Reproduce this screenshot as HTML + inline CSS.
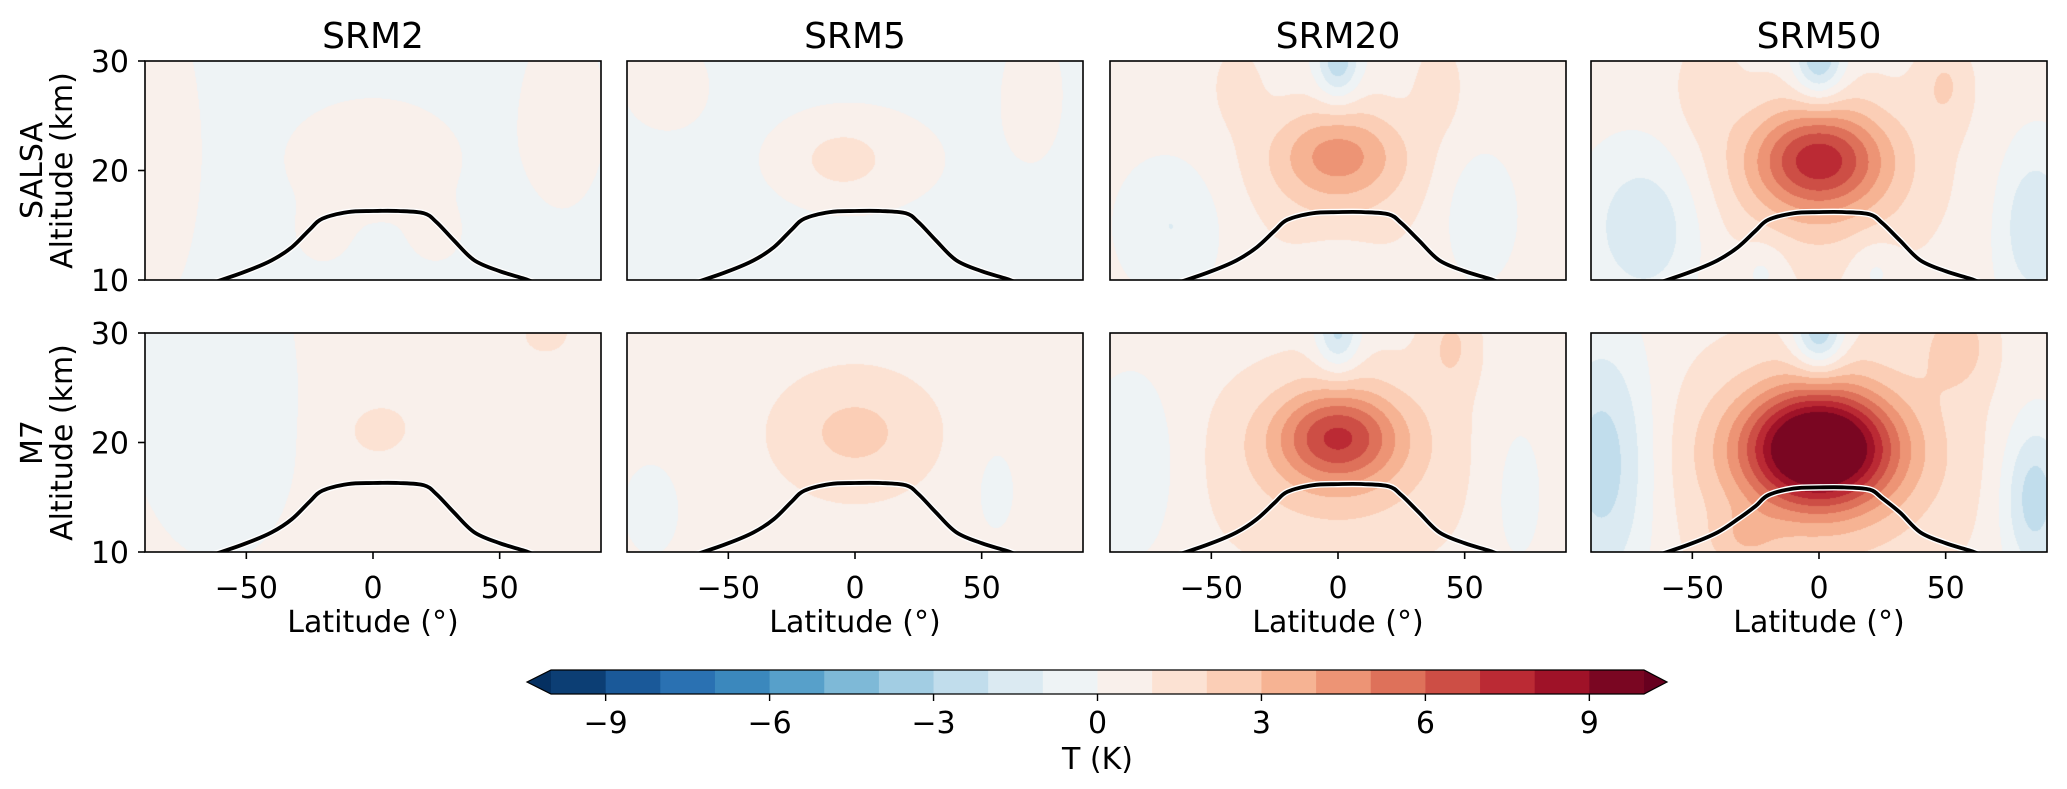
<!DOCTYPE html>
<html><head><meta charset="utf-8">
<style>
body{margin:0;background:#fff;width:2067px;height:789px;overflow:hidden;position:relative;font-family:"DejaVu Sans","Liberation Sans",sans-serif}
canvas{position:absolute}
svg{position:absolute;left:0;top:0;font-family:"DejaVu Sans","Liberation Sans",sans-serif}
</style></head><body>
<div id="fields"></div>
<svg id="ov" width="2067" height="789"></svg>
<script>
// ---- data ----
const columns = ["SRM2","SRM5","SRM20","SRM50"];
const rows = ["SALSA","M7"];
const xTicks = [-50,0,50];
const yTicks = [10,20,30];
const cbTicks = [-9,-6,-3,0,3,6,9];
const levels = [-10,-9,-8,-7,-6,-5,-4,-3,-2,-1,0,1,2,3,4,5,6,7,8,9,10];
const tpLat = [-90,-70,-60,-50,-40,-32,-25,-20,-10,0,10,20,25,32,40,50,60,70,90];
const tpAlt = [8.5,9.3,10,10.8,11.8,13.0,14.6,15.6,16.2,16.3,16.3,16.1,15.3,13.6,11.8,10.8,10.1,9.3,8.5];
// per-panel background offset and blobs [amp, lat, alt, sigmaLat, sigmaAlt]
const bgS = [-0.3,-0.3,0.3,0.3];
const bgM = [0.2,0.3,0.4,0.4];
const blobsS = [
 [[0.8,0,21,25,4],[0.8,-85,22,12,10],[0.8,75,25,12,6],[0.5,-20,14,8,2],[0.5,25,14,8,2]],
 [[1.3,-5,21,12,2],[0.8,-75,28,12,3],[0.9,70,27,8,4],[0.6,0,21,30,4]],
 [[3.2,0,21.5,18,3],[-3.2,0,30,6,2.5],[-1.4,-65,15,14,4],[-1.3,55,16,10,4],[1.2,40,28,7,3],[1.0,-40,28,8,3],[-0.8,0,11,10,2],[1.2,0,18,30,6]],
 [[5.5,0,21,18,3.2],[-3.8,0,30,7,2.5],[-2.3,-68,15,16,5],[-2.3,85,15,10,5],[-1.2,-22,11,7,2],[-1.2,22,11,7,2],[1.5,50,28,8,3],[1.2,-45,28,8,3],[2.0,0,19,35,7]]
];
const blobsM = [
 [[0.8,0,21,10,2],[0.6,30,25,30,8],[-0.6,-60,24,25,10],[0.8,70,30,10,2]],
 [[1.4,0,21,20,3.5],[-0.9,-80,14,8,3],[-0.7,55,16,8,4],[0.6,0,20,40,8]],
 [[5.2,0,20.5,17,3],[-3,0,30,6,2.5],[-1.4,-80,18,14,6],[1.5,45,29,8,3],[-1.0,70,16,10,6],[1.8,0,18,40,7]],
 [[10,0,19.5,20,3.6],[-4,0,30,7,2.5],[-3.2,-85,18,14,8],[-3.2,85,15,9,5],[1.8,55,29,10,3],[2.5,0,18,42,8],[1.2,-30,11,10,2]]
];
// ---- layout ----
const colX=[145,627,1110,1591], PW=456, rowY=[61,333], PH=219;
const FS=30;
const anchors=["#053061","#2166ac","#4393c3","#92c5de","#d1e5f0","#f7f7f7","#fddbc7","#f4a582","#d6604d","#b2182b","#67001f"].map(h=>[1,3,5].map(i=>parseInt(h.substr(i,2),16)));
function cmap(t){t=Math.max(0,Math.min(1,t));const p=t*10,i=Math.min(9,Math.floor(p)),f=p-i;return anchors[i].map((c,k)=>Math.round(c+(anchors[i+1][k]-c)*f));}
const binColors=[];for(let i=0;i<levels.length-1;i++){binColors.push(cmap(((levels[i]+levels[i+1])/2+10)/20));}
function xs(lat,c){return colX[c]+(lat+90)/180*PW;}
function ys(alt,r){return rowY[r]+PH-(alt-10)/20*PH;}
const NS="http://www.w3.org/2000/svg",ov=document.getElementById('ov');
function el(tag,attrs,txt){const e=document.createElementNS(NS,tag);for(const k in attrs)e.setAttribute(k,attrs[k]);if(txt!==undefined)e.textContent=txt;ov.appendChild(e);return e;}
function spline(p){let d=`M${p[0][0]},${p[0][1]}`;for(let i=0;i<p.length-1;i++){const p0=p[Math.max(0,i-1)],p1=p[i],p2=p[i+1],p3=p[Math.min(p.length-1,i+2)];
  const c1=[p1[0]+(p2[0]-p0[0])/6,p1[1]+(p2[1]-p0[1])/6],c2=[p2[0]-(p3[0]-p1[0])/6,p2[1]-(p3[1]-p1[1])/6];
  d+=` C${c1[0].toFixed(1)},${c1[1].toFixed(1)} ${c2[0].toFixed(1)},${c2[1].toFixed(1)} ${p2[0].toFixed(1)},${p2[1].toFixed(1)}`;}return d;}
const defs=el('defs',{});
const fields=document.getElementById('fields');
for(let r=0;r<2;r++)for(let c=0;c<4;c++){
  const cv=document.createElement('canvas');cv.width=PW;cv.height=PH;
  cv.style.left=colX[c]+'px';cv.style.top=rowY[r]+'px';
  
  
  fields.appendChild(cv);
  const ctx=cv.getContext('2d'),img=ctx.createImageData(PW,PH);
  const bl=r?blobsM[c]:blobsS[c],bg=r?bgM[c]:bgS[c];
  for(let py=0;py<PH;py++){const alt=30-(py+0.5)/PH*20;
    for(let px=0;px<PW;px++){const lat=-90+(px+0.5)/PW*180;let v=bg;
      for(const b of bl){const dx=(lat-b[1])/b[3],dy=(alt-b[2])/b[4];v+=b[0]*Math.exp(-0.5*(dx*dx+dy*dy));}
      let bi=Math.floor(v-levels[0]);bi=Math.max(0,Math.min(binColors.length-1,bi));
      const col=binColors[bi],o=(py*PW+px)*4;img.data[o]=col[0];img.data[o+1]=col[1];img.data[o+2]=col[2];img.data[o+3]=255;}}
  ctx.putImageData(img,0,0);
  const cp=document.createElementNS(NS,'clipPath');cp.setAttribute('id','cp'+r+c);defs.appendChild(cp);
  const cr=document.createElementNS(NS,'rect');cr.setAttribute('x',colX[c]);cr.setAttribute('y',rowY[r]);cr.setAttribute('width',PW);cr.setAttribute('height',PH);cp.appendChild(cr);
  const shift=(r===1&&c===3)?-0.4:(c>=2?-0.1:0);
  const d=spline(tpLat.map((l,i)=>[xs(l,c),ys(tpAlt[i]+(Math.abs(l)<30?shift:0),r)]));
  const halo=el('path',{d:d,fill:'none',stroke:'#fff',"stroke-width":6.5,'clip-path':'url(#cp'+r+c+')'});
  
  const tl=el('path',{d:d,fill:'none',stroke:'#000',"stroke-width":3.8,'clip-path':'url(#cp'+r+c+')'});
  
  const fr=el('rect',{x:colX[c],y:rowY[r],width:PW,height:PH,fill:'none',stroke:'#000',"stroke-width":1.6});
  
  if(c===0){for(const t of yTicks){const y=ys(t,r);el('line',{x1:colX[0]-7,x2:colX[0],y1:y,y2:y,stroke:'#000',"stroke-width":1.6});
    const tx=el('text',{x:colX[0]-16,y:y+11,"font-size":FS,"text-anchor":'end'},t);}
    const yl=el('text',{transform:`translate(70,${rowY[r]+PH/2}) rotate(-90)`,"font-size":FS,"text-anchor":'middle'});
    
    const t1=document.createElementNS(NS,'tspan');t1.setAttribute('x',0);t1.setAttribute('y',-28);t1.textContent=rows[r];yl.appendChild(t1);
    const t2=document.createElementNS(NS,'tspan');t2.setAttribute('x',0);t2.setAttribute('y',2);t2.textContent='Altitude (km)';yl.appendChild(t2);}
  if(r===1){for(const t of xTicks){const x=xs(t,c);el('line',{x1:x,x2:x,y1:rowY[1]+PH,y2:rowY[1]+PH+7,stroke:'#000',"stroke-width":1.6});
    const tx=el('text',{x:x,y:598,"font-size":FS,"text-anchor":'middle'},t<0?'\u2212'+(-t):t);}
    const xl=el('text',{x:colX[c]+PW/2,y:632,"font-size":FS,"text-anchor":'middle'},'Latitude (\u00b0)');}
  if(r===0){const ti=el('text',{x:colX[c]+PW/2,y:48,"font-size":36,"text-anchor":'middle'},columns[c]);}
}
// colorbar
const cbL=551,cbR=1644,cbT=670,cbB=694,bw=(cbR-cbL)/binColors.length;
binColors.forEach((col,i)=>{const b=el('rect',{x:cbL+i*bw,y:cbT,width:bw+0.5,height:cbB-cbT,fill:`rgb(${col})`});});
const la=el('polygon',{points:`${cbL},${cbT} ${cbL},${cbB} 527,${(cbT+cbB)/2}`,fill:'#053061'});
const ra=el('polygon',{points:`${cbR},${cbT} ${cbR},${cbB} 1667,${(cbT+cbB)/2}`,fill:'#67001f'});
const cbo=el('polygon',{points:`527,${(cbT+cbB)/2} ${cbL},${cbT} ${cbR},${cbT} 1667,${(cbT+cbB)/2} ${cbR},${cbB} ${cbL},${cbB}`,fill:'none',stroke:'#000',"stroke-width":1.2});

for(const t of cbTicks){const x=cbL+(t+10)/20*(cbR-cbL);el('line',{x1:x,x2:x,y1:cbB,y2:cbB+7,stroke:'#000',"stroke-width":1.4});
  const tx=el('text',{x:x,y:733,"font-size":FS,"text-anchor":'middle'},t<0?'\u2212'+(-t):t);}
const cbt=el('text',{x:(cbL+cbR)/2,y:769,"font-size":FS,"text-anchor":'middle'},'T (K)');
</script>
</body></html>
